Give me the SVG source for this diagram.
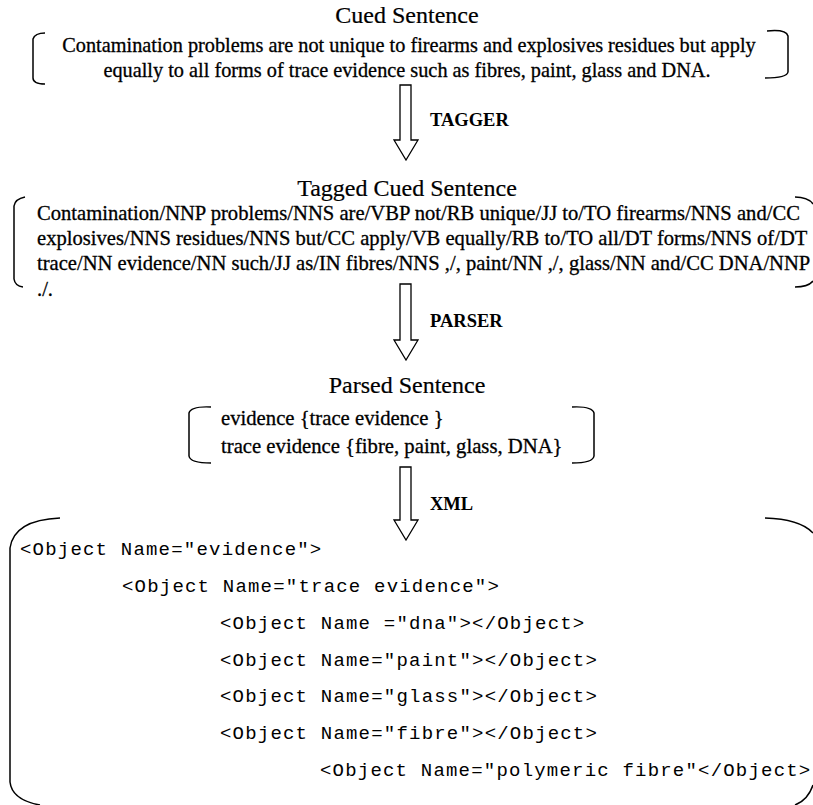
<svg xmlns="http://www.w3.org/2000/svg" width="813" height="805" viewBox="0 0 813 805">
<style>
.t{font-family:"Liberation Serif","Times New Roman",serif;font-size:20.3px;fill:#000;stroke:#000;stroke-width:0.3}
.g{font-size:20.6px}
.p{font-size:20.7px}
.h{font-family:"Liberation Serif","Times New Roman",serif;font-size:24px;fill:#000;stroke:#000;stroke-width:0.2}
.l{font-family:"Liberation Serif","Times New Roman",serif;font-size:18.5px;font-weight:bold;fill:#000}
.m{font-family:"Liberation Mono","Courier New",monospace;font-size:19px;letter-spacing:1.2px;fill:#000}
.b{fill:none;stroke:#000;stroke-width:1.5}
.a{fill:#fff;stroke:#000;stroke-width:1.3}
</style>
<rect width="813" height="805" fill="#fff"/>
<g id="cued">
<text class="h" x="407" y="23" text-anchor="middle">Cued Sentence</text>
<path class="b" d="M45,33 Q35,33 33,39 L33,78 Q33,84 45,84"/>
<path class="b" d="M767,31 Q786,29 788,36 L788,72 Q787,78 765,78"/>
<text class="t" x="409" y="52" text-anchor="middle">Contamination problems are not unique to firearms and explosives residues but apply</text>
<text class="t" x="407" y="77" text-anchor="middle">equally to all forms of trace evidence such as fibres, paint, glass and DNA.</text>
</g>
<g id="tagged">
<text class="h" x="407" y="196" text-anchor="middle">Tagged Cued Sentence</text>
<path class="b" d="M25,197 Q15,199 14,206 L14,279 Q15,286 23,287"/>
<path class="b" d="M795,197 Q808,197 813,204"/>
<path class="b" d="M795,287 Q808,287 813,281"/>
<text class="t g" x="37" y="220">Contamination/NNP problems/NNS are/VBP not/RB unique/JJ to/TO firearms/NNS and/CC</text>
<text class="t g" x="37" y="245">explosives/NNS residues/NNS but/CC apply/VB equally/RB to/TO all/DT forms/NNS of/DT</text>
<text class="t g" x="37" y="270">trace/NN evidence/NN such/JJ as/IN fibres/NNS ,/, paint/NN ,/, glass/NN and/CC DNA/NNP</text>
<text class="t g" x="37" y="296">./.</text>
</g>
<g id="parsed">
<text class="h" x="407" y="393" text-anchor="middle">Parsed Sentence</text>
<path class="b" d="M211,407 Q191,406 189,413 L189,456 Q190,463 211,463"/>
<path class="b" d="M572,407 Q592,406 594,413 L594,456 Q593,463 572,463"/>
<text class="t p" x="221" y="425">evidence {trace evidence }</text>
<text class="t p" x="221" y="453">trace evidence {fibre, paint, glass, DNA}</text>
</g>
<g id="xml">
<path class="b" d="M60,518 Q14,520 10,548 L10,782 Q12,800 40,805"/>
<path class="b" d="M765,518 Q800,519 813,533"/>
<path class="b" d="M795,805 Q808,800 813,785"/>
<text class="m" x="20" y="555">&lt;Object Name="evidence"&gt;</text>
<text class="m" x="122" y="592">&lt;Object Name="trace evidence"&gt;</text>
<text class="m" x="220" y="629">&lt;Object Name ="dna"&gt;&lt;/Object&gt;</text>
<text class="m" x="220" y="666">&lt;Object Name="paint"&gt;&lt;/Object&gt;</text>
<text class="m" x="220" y="702">&lt;Object Name="glass"&gt;&lt;/Object&gt;</text>
<text class="m" x="220" y="739">&lt;Object Name="fibre"&gt;&lt;/Object&gt;</text>
<text class="m" x="320" y="776">&lt;Object Name="polymeric fibre"&lt;/Object&gt;</text>
</g>
<g id="connectors">
<path class="a" d="M400,85 L411,85 L411,140 L418,140 L406,160 L394,140 L400,140 Z"/>
<text class="l" x="430" y="126">TAGGER</text>
<path class="a" d="M400,284 L411,284 L411,340 L418,340 L406,360 L394,340 L400,340 Z"/>
<text class="l" x="430" y="327">PARSER</text>
<path class="a" d="M400,467 L411,467 L411,520 L418,520 L406,540 L394,520 L400,520 Z"/>
<text class="l" x="430" y="510">XML</text>
</g>
</svg>
